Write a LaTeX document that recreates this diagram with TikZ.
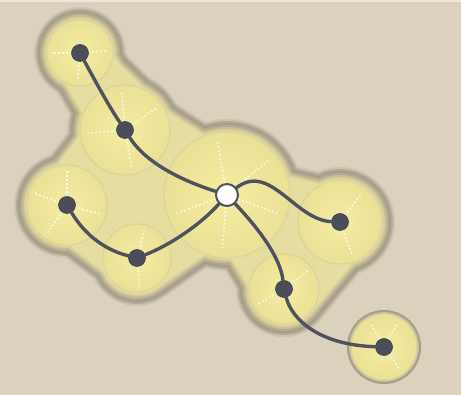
\documentclass[tikz,border=0pt]{standalone}
\usepackage{tikz}
\usetikzlibrary{calc}
\definecolor{paper}{HTML}{DAD2BD}
\definecolor{paperedge}{HTML}{ECE7DA}
\definecolor{haloA}{HTML}{CCC4AE}
\definecolor{haloB}{HTML}{B3AB96}
\definecolor{haloC}{HTML}{A69E8A}
\definecolor{haloD}{HTML}{B3AA8F}
\definecolor{haloE}{HTML}{C6BD96}
\definecolor{haloF}{HTML}{D9D09C}
\definecolor{haloG}{HTML}{E6DDA1}
\definecolor{sphin}{HTML}{F5EDA2}
\definecolor{sphout}{HTML}{EAE096}
\definecolor{sphrim}{HTML}{DCD39E}
\definecolor{atomgray}{HTML}{4B4E5A}
\definecolor{bondgray}{HTML}{4F515D}
\tikzset{
  sphere/.style={inner color=sphin, outer color=sphout, draw=sphrim, line width=1.2pt},
  spoke/.style={white, opacity=0.85, line width=1.6pt, dash pattern=on 1.6pt off 2.4pt},
  atom/.style={circle, fill=atomgray, draw=atomgray!80!black, line width=0.6pt, minimum size=17pt, inner sep=0pt},
  hubatom/.style={circle, fill=white, draw=bondgray, line width=2pt, minimum size=22pt, inner sep=0pt},
  bond/.style={draw=bondgray, line width=3.4pt, line cap=round},
}

\begin{document}
\begin{tikzpicture}[x=1pt, y=-1pt]
\useasboundingbox (0,0) rectangle (461,395);
\fill[paper] (0,0) rectangle (461,395);
\fill[paperedge] (0,0) rectangle (461,2);

% centres of the spheres
\coordinate (c1) at (80,53);
\coordinate (c2) at (125,130);
\coordinate (ch) at (227,195);
\coordinate (c3) at (340,222);
\coordinate (c4) at (284,289);
\coordinate (c5) at (384,347);
\coordinate (c6) at (67,205);
\coordinate (c7) at (137,258);

% soft outline round the big group
\foreach \d/\col in {13/haloA, 11/haloB, 9/haloC, 7/haloD, 5/haloE, 3/haloF, 1/haloG} {
  \foreach \c/\r in {c1/33, c2/45, ch/63, c3/42, c4/35, c6/40, c7/34}
    \fill[\col] (\c) circle[radius=\r+\d];
  \foreach \a/\b/\w in {c1/c2/27, c1/ch/18, c2/ch/37, ch/c3/31, ch/c4/28,
                        c3/c4/35, c6/c7/30, c6/c2/31, ch/c7/35}
    \draw[\col, line width={2*(\w+\d)}, line cap=round] (\a) -- (\b);
  \fill[\col] (c6) -- (c2) -- (ch) -- (c7) -- cycle;
  \fill[\col] (ch) -- (c3) -- (c4) -- cycle;
}
\fill[haloC] (c5) circle[radius=37];
\fill[haloE] (c5) circle[radius=35];

% spheres with their dotted spokes
\foreach \c/\r/\angs in {c1/33/{180,-5,95}, c2/45/{-35,-95,175,80},
    ch/63/{-100,-40,20,95,160}, c3/42/{-53,70}, c4/35/{-37,150},
    c5/33/{-120,-60,55}, c6/40/{-90,-160,15,125}, c7/34/{-75,85}} {
  \shade[sphere] (\c) circle[radius=\r];
  \foreach \a in \angs
    \draw[spoke] (\c) -- ++(\a:{0.85*\r});
}

% atoms
\node[atom] (n1) at (c1) {};
\node[atom] (n2) at (c2) {};
\node[hubatom] (hub) at (ch) {};
\node[atom] (n3) at (c3) {};
\node[atom] (n4) at (c4) {};
\node[atom] (n5) at (c5) {};
\node[atom] (n6) at (c6) {};
\node[atom] (n7) at (c7) {};

% bonds
\draw[bond] (n1) .. controls (92,75) and (108,105) .. (n2);
\draw[bond] (n2) .. controls (145,162) and (180,180) .. (hub);
\draw[bond] (hub) .. controls (270,162) and (295,220) .. (n3);
\draw[bond] (hub) .. controls (255,225) and (280,255) .. (n4);
\draw[bond] (n4) .. controls (292,320) and (320,345) .. (n5);
\draw[bond] (hub) .. controls (200,225) and (170,245) .. (n7);
\draw[bond] (n7) .. controls (105,250) and (85,235) .. (n6);
\end{tikzpicture}
\end{document}
